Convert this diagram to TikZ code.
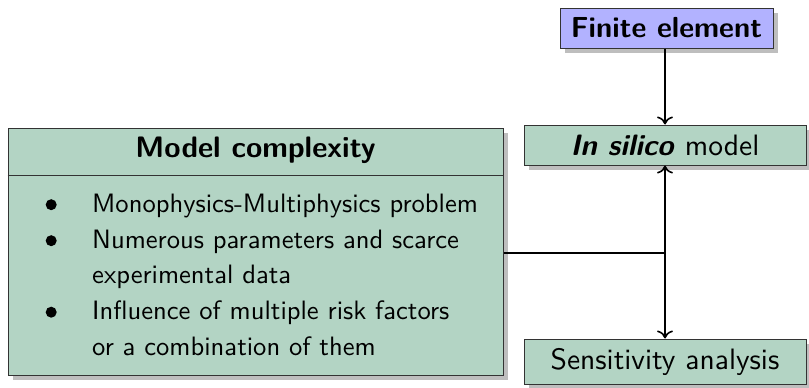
\documentclass[tikz,border=0pt]{standalone}
\usepackage{fontspec}
\setsansfont{lmsans10-regular.otf}[BoldFont=lmsans10-bold.otf, ItalicFont=lmsans10-oblique.otf, BoldItalicFont=lmsans10-boldoblique.otf]
\usetikzlibrary{arrows.meta}
\definecolor{boxgreen}{RGB}{179,212,196}
\definecolor{boxblue}{RGB}{178,178,255}
\definecolor{shadowgray}{RGB}{190,190,190}
\tikzset{
  box/.style={draw=black!80, line width=1pt, fill=boxgreen, inner sep=0pt,
    font=\sffamily\fontsize{29.5}{34}\selectfont},
  conn/.style={line width=1.6pt, -{To[length=8pt,width=16pt,line width=1.6pt]}},
  plain/.style={line width=1.6pt},
  itemtext/.style={anchor=base west, inner sep=0pt, font=\sffamily\fontsize{26.6}{30}\selectfont},
  bul/.style={circle, fill=black, inner sep=0pt, minimum size=11pt},
}
\begin{document}
\begin{tikzpicture}[x=1pt,y=-1pt]
\useasboundingbox (0,0) rectangle (809,388);
% shadows
\fill[shadowgray] (565,13) rectangle (778,53);
\fill[shadowgray] (529,130) rectangle (811,170);
\fill[shadowgray] (13,133) rectangle (508,380);
\fill[shadowgray] (529,344) rectangle (811,389);
% boxes
\node[box, fill=boxblue, minimum width=213pt, minimum height=40pt, font=\sffamily\bfseries\fontsize{29}{34}\selectfont] (fe) at (666.5,28) {Finite element};
\node[box, minimum width=282pt, minimum height=40pt] (ism) at (665,145) {\textit{\textbf{In silico}} model};
\node[box, minimum width=495pt, minimum height=247pt] (mc) at (255.5,251.5) {};
\node[box, minimum width=282pt, minimum height=45pt] (sa) at (665,361.5) {Sensitivity analysis};
% model complexity content
\node[anchor=base, inner sep=0pt, font=\sffamily\bfseries\fontsize{29.6}{34}\selectfont] (mct) at (255.5,157) {Model complexity};
\draw[line width=0.8pt, black!80] (mc.west |- 0,175) coordinate (sepl) -- (mc.east |- 0,175) coordinate (sepr);
\foreach \y/\t [count=\i] in {212/Monophysics-Multiphysics problem, 248/Numerous parameters and scarce, 283.5/experimental data, 319.5/Influence of multiple risk factors, 355/or a combination of them}{
  \node[itemtext] (it\i) at (92,\y) {\t};
}
\foreach \y [count=\i] in {204.7,240.7,312.2}{
  \node[bul] (b\i) at (51.2,\y) {};
}
% connectors
\coordinate (j) at (ism.south |- 0,253);
\draw[conn] (ism.north |- fe.south) -- (ism.north);
\draw[plain] (mc.east |- j) -- (j);
\draw[conn] (j) -- (ism.south);
\draw[conn] (j) -- (sa.north);
\end{tikzpicture}
\end{document}
